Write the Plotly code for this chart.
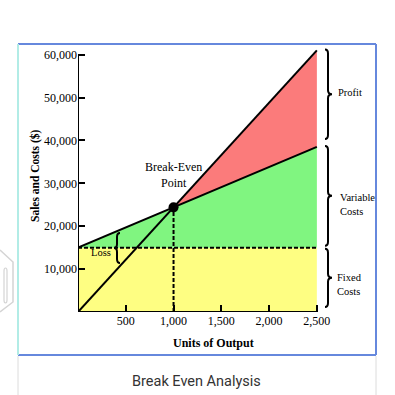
import plotly.graph_objects as go

# ---- data ----
units_axis = [0, 2500]                 # output range (units)
fixed_costs = 15000                    # $
total_cost_at_end = 38500              # $ at 2,500 units
sales_at_end = 61000                   # $ at 2,500 units
x_tickvals = [500, 1000, 1500, 2000, 2500]
x_ticktext = ["500", "1,000", "1,500", "2,000", "2,500"]
y_tickvals = [10000, 20000, 30000, 40000, 50000, 60000]
y_ticktext = ["10,000", "20,000", "30,000", "40,000", "50,000", "60,000"]

x0, x1 = units_axis
price = sales_at_end / x1
unit_var = (total_cost_at_end - fixed_costs) / x1
be_x = fixed_costs / (price - unit_var)
be_y = price * be_x

X_MAX, Y_MAX = 2512, 61800
W = H = 395
PL, PT, PW, PH = 78, 47, 240, 265

YELLOW, GREEN, RED = "#fefe82", "#80f580", "#fb7b7b"
SERIF = "Liberation Serif"


def X(px):
    return (px - PL) / PW


def Y(py):
    return (PT + PH - py) / PH


def px_of(u):
    return PL + u / X_MAX * PW


def py_of(v):
    return PT + PH - v / Y_MAX * PH


def brace(x, top, bot, direction=1, curl=3, tipw=4, r=4):
    mid = (top + bot) / 2
    d = direction
    pts = [
        f"M{X(x - d*curl)},{Y(top)}",
        f"Q{X(x)},{Y(top)} {X(x)},{Y(top + r)}",
        f"L{X(x)},{Y(mid - r)}",
        f"Q{X(x)},{Y(mid)} {X(x + d*tipw)},{Y(mid)}",
        f"Q{X(x)},{Y(mid)} {X(x)},{Y(mid + r)}",
        f"L{X(x)},{Y(bot - r)}",
        f"Q{X(x)},{Y(bot)} {X(x - d*curl)},{Y(bot)}",
    ]
    return dict(type="path", xref="paper", yref="paper", path=" ".join(pts),
                line=dict(color="black", width=2), layer="above")


fig = go.Figure()
# yellow fixed-cost area
fig.add_trace(go.Scatter(x=[x0, x1], y=[fixed_costs, fixed_costs], mode="lines",
                         line=dict(width=0), fill="tozeroy", fillcolor=YELLOW,
                         hoverinfo="skip"))
# green variable-cost area
fig.add_trace(go.Scatter(x=[x0, x1], y=[fixed_costs, total_cost_at_end], mode="lines",
                         line=dict(width=0), fill="tonexty", fillcolor=GREEN,
                         hoverinfo="skip"))
# red profit area
fig.add_trace(go.Scatter(x=[be_x, x1, x1, be_x], y=[be_y, sales_at_end, total_cost_at_end, be_y],
                         mode="lines", line=dict(width=0), fill="toself", fillcolor=RED,
                         hoverinfo="skip"))
# dashed fixed-cost line
fig.add_trace(go.Scatter(x=[x0, x1], y=[fixed_costs, fixed_costs], mode="lines",
                         line=dict(color="black", width=2, dash="4px,2px")))
# dashed break-even drop line
fig.add_trace(go.Scatter(x=[be_x, be_x], y=[0, be_y], mode="lines",
                         line=dict(color="black", width=2, dash="4px,2px")))
# total cost line
fig.add_trace(go.Scatter(x=[x0, x1], y=[fixed_costs, total_cost_at_end], mode="lines",
                         line=dict(color="black", width=2)))
# sales line
fig.add_trace(go.Scatter(x=[x0, x1], y=[0, sales_at_end], mode="lines",
                         line=dict(color="black", width=2)))
# break-even point
fig.add_trace(go.Scatter(x=[be_x], y=[be_y], mode="markers",
                         marker=dict(color="black", size=10), cliponaxis=False))

shapes = []
# axes lines
shapes.append(dict(type="line", xref="x", yref="y", x0=0, x1=0, y0=0, y1=y_tickvals[-1],
                   line=dict(color="black", width=2), layer="above"))
shapes.append(dict(type="line", xref="x", yref="y", x0=0, x1=x1, y0=0, y1=0,
                   line=dict(color="black", width=2), layer="above"))

# braces on the right
bx = 328
shapes.append(brace(bx, py_of(sales_at_end) - 1, py_of(total_cost_at_end) - 8))
shapes.append(brace(bx, py_of(total_cost_at_end) - 1, py_of(fixed_costs) - 2))
shapes.append(brace(bx, py_of(fixed_costs) + 1, py_of(0) - 5))
# loss brace
shapes.append(brace(117, 233, 263, direction=-1, curl=3, tipw=3))

# frame
FB = "#6688dd"
shapes += [
    dict(type="line", xref="paper", yref="paper", x0=X(18), x1=X(376), y0=Y(44), y1=Y(44),
         line=dict(color=FB, width=2)),
    dict(type="line", xref="paper", yref="paper", x0=X(376), x1=X(376), y0=Y(44), y1=Y(355),
         line=dict(color=FB, width=2)),
    dict(type="line", xref="paper", yref="paper", x0=X(18), x1=X(376), y0=Y(355), y1=Y(355),
         line=dict(color=FB, width=2)),
    dict(type="line", xref="paper", yref="paper", x0=X(18), x1=X(18), y0=Y(44), y1=Y(355),
         line=dict(color="#b2ece6", width=2)),
    dict(type="line", xref="paper", yref="paper", x0=X(18), x1=X(18), y0=Y(356), y1=Y(395),
         line=dict(color="#dcdcdc", width=1)),
    dict(type="line", xref="paper", yref="paper", x0=X(376), x1=X(376), y0=Y(356), y1=Y(395),
         line=dict(color="#dcdcdc", width=1)),
    # side tab
    dict(type="path", xref="paper", yref="paper",
         path=f"M{X(0)},{Y(250)} L{X(13)},{Y(262)} L{X(13)},{Y(302)} L{X(0)},{Y(312)}",
         line=dict(color="#d4d4d4", width=1.5)),
    dict(type="path", xref="paper", yref="paper",
         path=(f"M{X(4)},{Y(271)} Q{X(4)},{Y(268)} {X(5.5)},{Y(268)} Q{X(7)},{Y(268)} {X(7)},{Y(271)} "
               f"L{X(7)},{Y(300)} Q{X(7)},{Y(303)} {X(5.5)},{Y(303)} Q{X(4)},{Y(303)} {X(4)},{Y(300)} Z"),
         line=dict(color="#d4d4d4", width=1.2)),
]

ann = []


def note(text, xp, yp, size=10, xanchor="center", align="center", bold=False, angle=0,
         family=SERIF, color="black"):
    if bold:
        text = f"<b>{text}</b>"
    ann.append(dict(text=text, x=X(xp), y=Y(yp), xref="paper", yref="paper",
                    xanchor=xanchor, yanchor="middle", align=align, showarrow=False,
                    textangle=angle, font=dict(family=family, size=size, color=color)))


note("Profit", 336, 92, size=10.5, xanchor="left", align="left")
note("Variable<br>Costs", 338, 204, size=10.5, xanchor="left", align="left")
note("Fixed<br>Costs", 335, 284, size=10.5, xanchor="left", align="left")
note("Break-Even<br>Point", px_of(be_x), 175, size=12)
note("Loss", 101, 252, size=10.5)
note("Sales and Costs ($)", 35, 176, size=11.5, bold=True, angle=-90)
note("Units of Output", 213, 343, size=12, bold=True)
note("Break Even Analysis", 196, 381, size=14.5, family="Roboto", color="#333333")

fig.update_layout(
    width=W, height=H, margin=dict(l=PL, r=W - PL - PW, t=PT, b=H - PT - PH),
    paper_bgcolor="white", plot_bgcolor="white", showlegend=False,
    shapes=shapes, annotations=ann,
    xaxis=dict(range=[0, X_MAX], showgrid=False, zeroline=False, showline=False,
               tickvals=x_tickvals, ticktext=x_ticktext, ticks="inside", ticklen=7,
               tickwidth=2, tickcolor="black",
               tickfont=dict(family=SERIF, size=12, color="black")),
    yaxis=dict(range=[0, Y_MAX], showgrid=False, zeroline=False, showline=False,
               tickvals=y_tickvals, ticktext=y_ticktext, ticks="inside", ticklen=7,
               tickwidth=2, tickcolor="black",
               tickfont=dict(family=SERIF, size=12, color="black")),
)

fig.write_html("out.html", config={"displayModeBar": False},
               post_script="document.body.style.margin='0';document.body.style.overflow='hidden';")
